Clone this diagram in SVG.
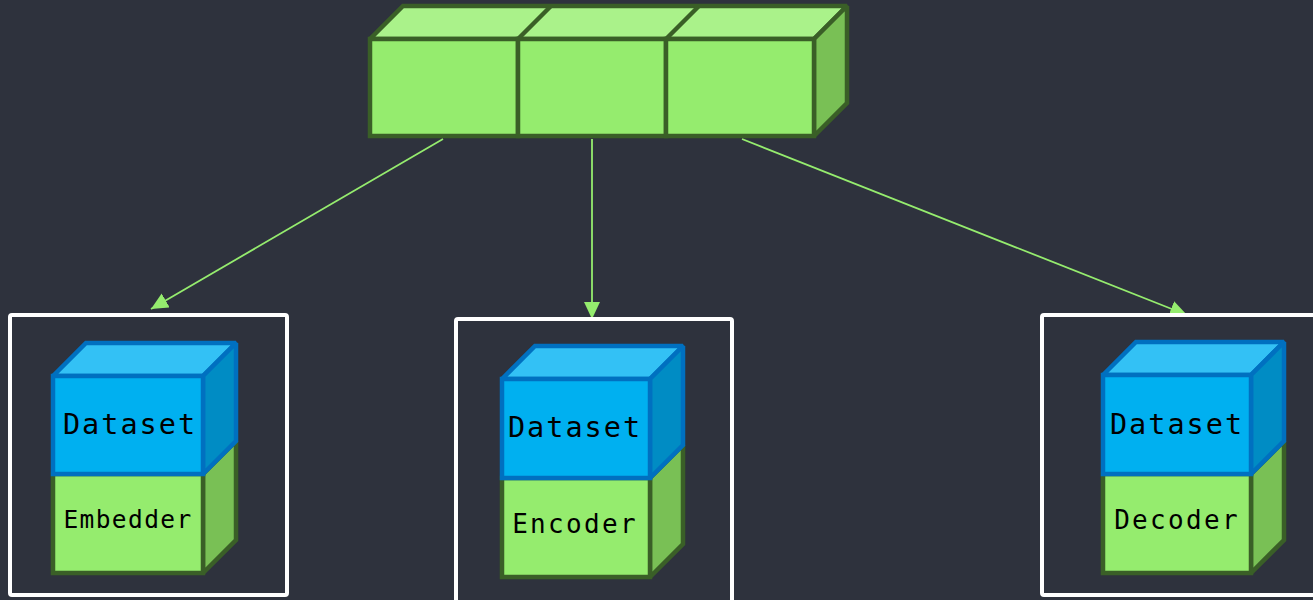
<svg xmlns="http://www.w3.org/2000/svg" width="1313" height="600" viewBox="0 0 1313 600">
  <defs>
    <style>
      .bg { fill: #2e323d; }
      .panel { fill: none; stroke: #ffffff; stroke-width: 4; }
      .g { stroke: #3a5f27; stroke-width: 4.5; stroke-linejoin: miter; stroke-miterlimit: 1.5; }
      .g-front { fill: #95ec6e; }
      .g-top { fill: #aaf28a; }
      .g-side { fill: #79c055; }
      .b { stroke: #0070c0; stroke-width: 4.5; stroke-linejoin: miter; stroke-miterlimit: 1.5; }
      .b-front { fill: #00b0f0; }
      .b-top { fill: #33c1f5; }
      .b-side { fill: #008cc4; }
      .edge { fill: none; stroke: #95ec6e; stroke-width: 1.8; }
      .lbl { font-family: "DejaVu Sans Mono", "Liberation Mono", monospace; fill: #000000; text-anchor: middle; }
      .big { font-size: 28.5px; letter-spacing: 2px; }
      .mid { font-size: 26px; letter-spacing: 2.3px; }
      .small { font-size: 24.5px; letter-spacing: 1.4px; }
    </style>
    <marker id="arrow" markerUnits="userSpaceOnUse" markerWidth="20" markerHeight="18" refX="17" refY="8" orient="auto">
      <path d="M0,0 L17,8 L0,16 Z" fill="#95ec6e"/>
    </marker>
  </defs>

  <rect class="bg" x="0" y="0" width="1313" height="600"/>

  <!-- three-cell tensor block -->
  <g id="tensor">
    <path class="g g-top" d="M370,39 L403,6 L847,6 L814,39 Z"/>
    <path class="g g-side" d="M814,39 L847,6 L847,103 L814,136 Z"/>
    <rect class="g g-front" x="370" y="39" width="148" height="97"/>
    <rect class="g g-front" x="518" y="39" width="148" height="97"/>
    <rect class="g g-front" x="666" y="39" width="148" height="97"/>
    <line class="g" x1="518" y1="39" x2="551" y2="6"/>
    <line class="g" x1="666" y1="39" x2="699" y2="6"/>
  </g>

  <!-- connectors -->
  <g id="connectors">
    <line class="edge" x1="443" y1="139" x2="151" y2="309" marker-end="url(#arrow)"/>
    <line class="edge" x1="592" y1="139" x2="592" y2="319" marker-end="url(#arrow)"/>
    <line class="edge" x1="742" y1="139" x2="1187" y2="315" marker-end="url(#arrow)"/>
  </g>

  <!-- embedder stack -->
  <g id="embedder">
    <rect class="panel" x="10" y="315" width="277" height="280" rx="2"/>
    <path class="g g-side" d="M203,474 L236,441 L236,540 L203,573 Z"/>
    <rect class="g g-front" x="53" y="474" width="150" height="99"/>
    <path class="b b-top" d="M53,376 L86,343 L236,343 L203,376 Z"/>
    <path class="b b-side" d="M203,376 L236,343 L236,441 L203,474 Z"/>
    <rect class="b b-front" x="53" y="376" width="150" height="98"/>
    <text class="lbl big" x="130" y="434">Dataset</text>
    <text class="lbl small" x="128" y="528">Embedder</text>
  </g>

  <!-- encoder stack -->
  <g id="encoder">
    <rect class="panel" x="456" y="319" width="276" height="283" rx="2"/>
    <path class="g g-side" d="M650,478 L683,445 L683,544 L650,577 Z"/>
    <rect class="g g-front" x="502" y="478" width="148" height="99"/>
    <path class="b b-top" d="M502,379 L535,346 L683,346 L650,379 Z"/>
    <path class="b b-side" d="M650,379 L683,346 L683,445 L650,478 Z"/>
    <rect class="b b-front" x="502" y="379" width="148" height="99"/>
    <text class="lbl big" x="575" y="437">Dataset</text>
    <text class="lbl mid" x="575" y="533">Encoder</text>
  </g>

  <!-- decoder stack -->
  <g id="decoder">
    <rect class="panel" x="1042" y="315" width="290" height="280" rx="2"/>
    <path class="g g-side" d="M1251,474 L1284,441 L1284,540 L1251,573 Z"/>
    <rect class="g g-front" x="1103" y="474" width="148" height="99"/>
    <path class="b b-top" d="M1103,375 L1136,342 L1284,342 L1251,375 Z"/>
    <path class="b b-side" d="M1251,375 L1284,342 L1284,441 L1251,474 Z"/>
    <rect class="b b-front" x="1103" y="375" width="148" height="99"/>
    <text class="lbl big" x="1177" y="434">Dataset</text>
    <text class="lbl mid" x="1177" y="529">Decoder</text>
  </g>
</svg>
